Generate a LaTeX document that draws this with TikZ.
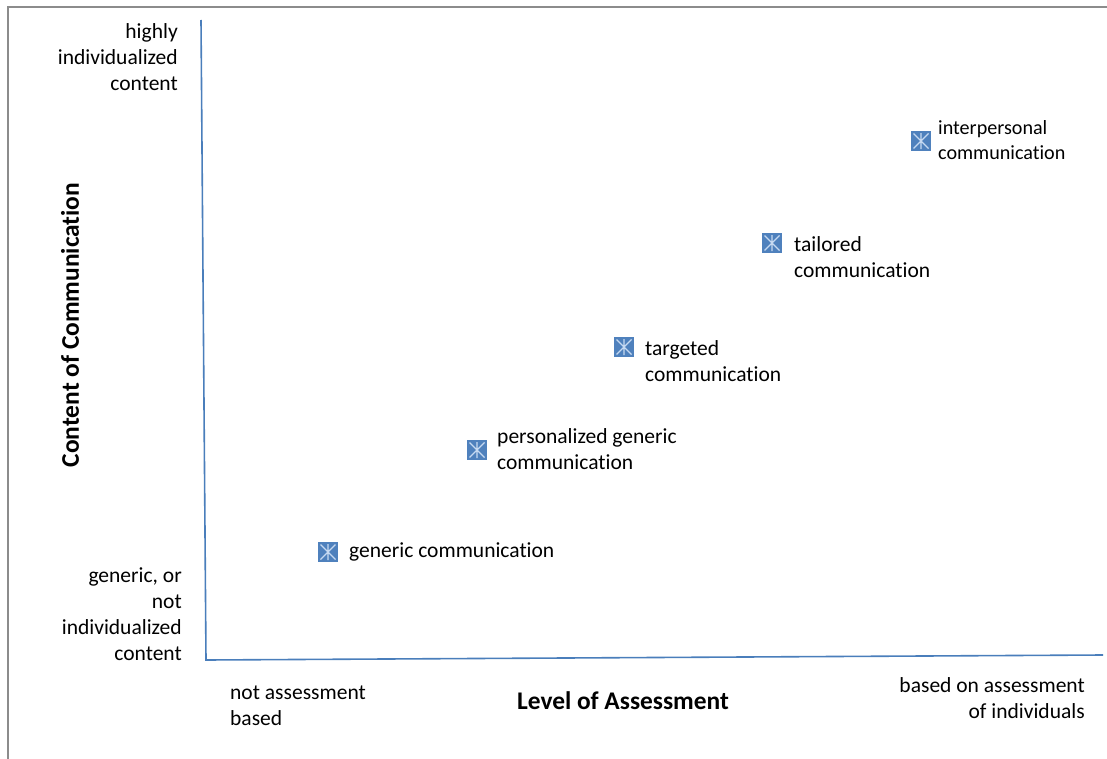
\documentclass[tikz,border=0pt]{standalone}
\usepackage{fontspec}
\setmainfont{Carlito}[Ligatures=NoCommon]
\usetikzlibrary{positioning}

\definecolor{axisblue}{HTML}{4A7EBB}
\definecolor{markblue}{HTML}{4F81BD}
\definecolor{marklight}{HTML}{C6D9F1}
\definecolor{framegray}{HTML}{8C8C8C}

\begin{document}
\begin{tikzpicture}[
    x=1bp, y=-1bp,
    every node/.style={font=\fontsize{21.6}{26}\selectfont, inner sep=0pt},
    axis/.style={draw=axisblue, line width=1.6bp},
    marker/.style={rectangle, fill=markblue, minimum size=20bp,
        path picture={
            \draw[marklight, line width=1.3bp]
                ([shift={(2.5bp,-2.5bp)}]path picture bounding box.north west) -- ([shift={(-2.5bp,2.5bp)}]path picture bounding box.south east)
                ([shift={(-2.5bp,-2.5bp)}]path picture bounding box.north east) -- ([shift={(2.5bp,2.5bp)}]path picture bounding box.south west)
                ([yshift=-2bp]path picture bounding box.north) -- ([yshift=2bp]path picture bounding box.south);
        }},
    pointlabel/.style={anchor=west, align=left},
    endlabel/.style={align=right},
    title/.style={font=\fontsize{25.5}{30}\selectfont\bfseries}
]
\useasboundingbox (0,0) rectangle (1107,759);

% Frame
\draw[framegray, line width=1.5bp] (8,759) -- (8,7) -- (1107,7);

% Axes
\coordinate (origin) at (206,660);
\coordinate (ytop) at (201,20);
\coordinate (xend) at (1103,655);
\draw[axis] (ytop) -- (origin) -- (xend);

% Axis titles
\node[title, rotate=90] (ytitle) at (70,325) {Content of Communication};
\node[title] (xtitle) at (623,701) {Level of Assessment};

% Axis end labels
\node[endlabel, anchor=east] (yhigh) at (178,57) {highly\\individualized\\content};
\node[endlabel, anchor=east] (ylow) at (182,614) {generic, or\\not\\individualized\\content};
\node[align=left, anchor=west] (xlow) at (230,706) {not assessment\\based};
\node[endlabel, anchor=east] (xhigh) at (1085,698) {based on assessment\\of individuals};

% Communication types
\node[marker] (m1) at (328,552) {};
\node[marker] (m2) at (477,450) {};
\node[marker] (m3) at (624,347) {};
\node[marker] (m4) at (772,243) {};
\node[marker] (m5) at (921,141) {};

\node[pointlabel] (l1) at (349,552) {generic communication};
\node[pointlabel] (l2) at (497,449) {personalized generic\\communication};
\node[pointlabel] (l3) at (645,361) {targeted\\communication};
\node[pointlabel] (l4) at (794,257) {tailored\\communication};
\node[pointlabel, font=\fontsize{20.2}{25}\selectfont] (l5) at (938,140) {interpersonal\\communication};

\end{tikzpicture}
\end{document}
